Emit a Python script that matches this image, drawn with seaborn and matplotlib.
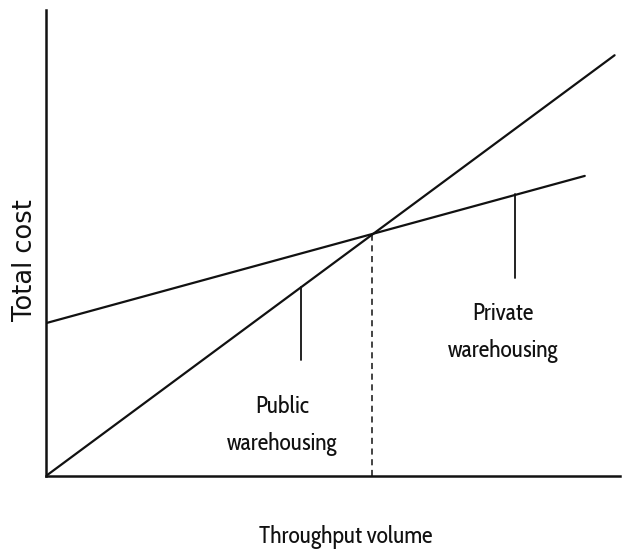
import matplotlib
matplotlib.use("Agg")
import matplotlib.pyplot as plt
import seaborn as sns
import pandas as pd

# Data
public_volume = [0.0, 9.91]
public_cost = [0.0, 9.03]
private_volume = [0.0, 9.39]
private_cost = [3.28, 6.44]
breakeven_volume = 5.68
breakeven_cost = 5.19
public_pointer = [4.44, 4.05, 2.49]   # x, y_top, y_bottom
private_pointer = [8.17, 6.05, 4.25]
public_label = "Public\nwarehousing"
private_label = "Private\nwarehousing"
x_label = "Throughput volume"
y_label = "Total cost"

sns.set_theme(style="white")
plt.rcParams['font.family'] = ['Cabin Condensed', 'DejaVu Sans']

df = pd.concat([
    pd.DataFrame({"volume": public_volume, "cost": public_cost, "type": "Public"}),
    pd.DataFrame({"volume": private_volume, "cost": private_cost, "type": "Private"}),
])

fig = plt.figure(figsize=(6.35, 5.58), dpi=100)
ax = fig.add_axes([0.0724, 0.147, 0.9036, 0.835])

sns.lineplot(data=df, x="volume", y="cost", units="type", estimator=None,
             color="#111111", linewidth=1.6, ax=ax, legend=False)

ax.plot([breakeven_volume, breakeven_volume], [0, breakeven_cost],
        linestyle=(0, (4, 3)), color="#111111", linewidth=1.1)
ax.plot([public_pointer[0]] * 2, public_pointer[1:], color="#111111", linewidth=1.3)
ax.plot([private_pointer[0]] * 2, private_pointer[1:], color="#111111", linewidth=1.3)

ax.text(4.11, 1.08, public_label, ha="center", va="center", fontsize=17,
        linespacing=1.7, color="#111111")
ax.text(7.96, 3.08, private_label, ha="center", va="center", fontsize=17,
        linespacing=1.75, color="#111111")

ax.set_xlim(0, 10)
ax.set_ylim(0, 10)
ax.set_xticks([])
ax.set_yticks([])
ax.set_xlabel(x_label, fontsize=17, color="#111111")
ax.xaxis.set_label_coords(0.523, -0.105)
ax.set_ylabel(y_label, fontsize=18.5, color="#111111",
              family=['DejaVu Sans'], va="center")
ax.yaxis.set_label_coords(-0.037, 0.464)
for s in ["top", "right"]:
    ax.spines[s].set_visible(False)
for s in ["left", "bottom"]:
    ax.spines[s].set_color("#111111")
    ax.spines[s].set_linewidth(1.8)

fig.savefig("out.png", dpi=100, facecolor="white")
